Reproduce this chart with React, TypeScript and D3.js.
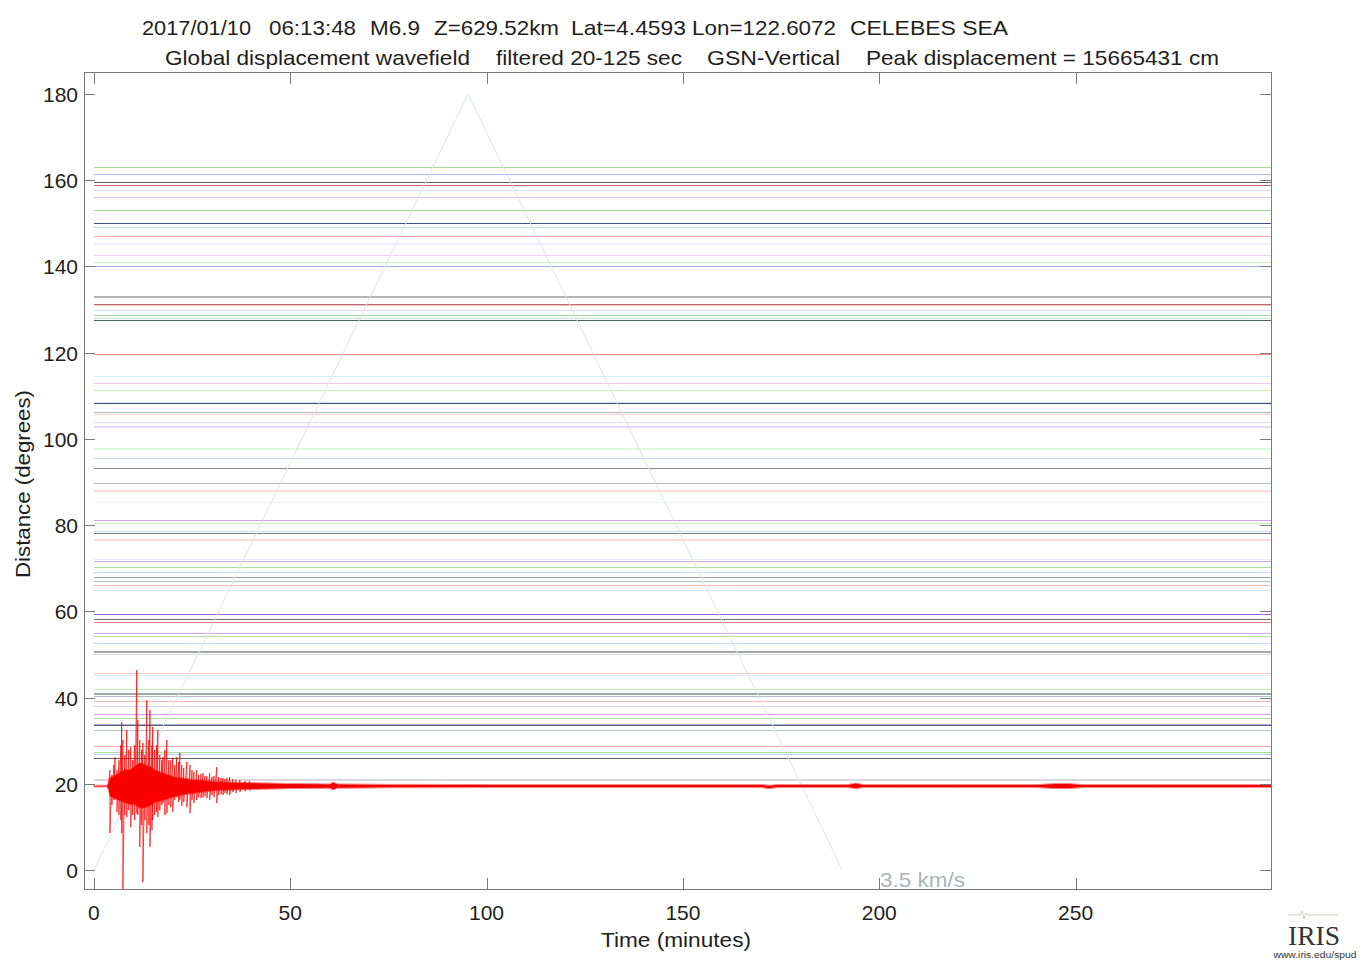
import React from "react";
import * as d3 from "d3";

// ---------- DATA ----------
const xTicks = [0, 50, 100, 150, 200, 250];
const yTicks = [0, 20, 40, 60, 80, 100, 120, 140, 160, 180];

// station distances (degrees) of the flat-looking traces
const stationDist = [
  163.0, 161.4, 159.5, 158.8, 157.7, 156.0, 153.0, 150.1, 149.1, 147.0, 145.3, 142.6, 141.0, 140.2,
  133.0, 131.4, 131.1, 129.8, 128.7, 128.1, 127.5, 119.7, 114.5, 112.9, 111.3, 108.6, 108.3, 106.2,
  105.8, 103.9, 102.7, 97.7, 95.6, 93.3, 89.7, 88.0, 85.3, 81.1, 80.4, 78.7, 78.1, 76.6, 72.2, 71.6,
  70.2, 69.1, 68.0, 67.0, 66.2, 64.9, 59.3, 58.3, 57.5, 55.1, 54.4, 52.7, 50.6, 50.1, 45.8, 45.2,
  42.1, 40.9, 40.5, 39.3, 38.0, 36.3, 35.4, 34.0, 33.6, 32.4, 28.9, 27.3, 26.9, 26.1, 20.9,
];
// style for each station line
const stationColor = [
  "#a8d8a0", "#a8b8f8", "#5e5e5e", "#c06070", "#d8d8f8", "#e0c0f0", "#a0d890", "#405080", "#c0e0e0", "#ffa8a8", "#eeeefa", "#f5d0f0", "#d0f0c0", "#a0b0f0",
  "#b4b4b4", "#b07070", "#ffc0c0", "#dcdcff", "#a8e0a0", "#c8e0e0", "#506060", "#ff9090", "#d8e8ff", "#f0c8f0", "#c8f0b0", "#d0e0ff", "#405070", "#a8b8b0",
  "#ffc8c8", "#dcdcff", "#e8d8f8", "#dcfadc", "#c8d8ff", "#8c8c8c", "#b0c0b8", "#ffd8d8", "#eeeeff", "#d0a0f0", "#c8f0b0", "#c8d8ff", "#7c7c7c", "#ffd8d8", "#e8e8ff", "#d0a8f0",
  "#a8e0a0", "#c8d8ff", "#a0a0a0", "#b0c4c0", "#ffb0b0", "#dcdcff", "#a060f0", "#707070", "#ff8080", "#d8a8f0", "#a8e0a0", "#c8d8ff", "#a0a8a8", "#d8d8d8", "#ffc8c8", "#d8e8ff",
  "#c0f0b0", "#a0a8a8", "#b0c0c0", "#ffb8b8", "#d8d8ff", "#d0a0f0", "#a8e0a0", "#a0b0f0", "#606060", "#b0c4c4", "#ffa8a8", "#a0e090", "#c0c8ff", "#606060", "#d8d8d8",
];
const stationWidth = stationDist.map((d) =>
  [145.3, 133.0, 102.7, 97.7, 88.0, 76.6, 50.6, 40.9, 20.9].includes(d) ? 2 : 1
);

// the large trace (nearest station, ~19.5 degrees)
const traceDist = 19.5;
// spike envelope (minutes, degrees above / below baseline)
const spikeT = [3.6, 4.1, 4.6, 5.1, 5.4, 5.9, 6.4, 6.9, 7.1, 7.4, 7.9, 8.4, 8.9, 9.4, 9.9, 10.4, 10.95, 11.2, 11.7, 12.2, 12.5, 13.0, 13.5, 14.0, 14.3, 14.8, 15.0, 15.5, 16.0, 16.3, 16.8, 17.3, 17.6, 18.1, 18.6, 19.1, 19.6, 20.1, 20.6, 21.1, 21.6, 21.9, 22.4, 22.9, 23.7, 24.5, 25.0, 25.5, 26.2, 26.7, 27.3, 27.8, 28.3, 28.8, 29.5, 30.1, 30.6, 31.3, 31.8, 32.4, 32.9, 33.4, 33.9, 34.6, 35.4, 36.2, 37.2, 38.5, 39.7];
const spikeHi = [0.5, 3.7, 2.6, 4.9, 6.7, 3.7, 6.0, 9.5, 14.8, 10.7, 7.2, 13.0, 8.4, 9.0, 6.0, 9.5, 26.9, 15.3, 10.7, 8.4, 10.0, 7.2, 19.9, 10.7, 17.6, 9.5, 13.7, 8.4, 9.5, 13.0, 7.2, 6.0, 6.7, 8.4, 10.7, 6.0, 6.0, 6.5, 4.9, 6.7, 5.6, 7.7, 4.9, 4.2, 5.6, 4.9, 3.7, 3.2, 3.7, 2.6, 2.8, 3.0, 2.3, 2.3, 3.0, 2.1, 2.3, 4.4, 2.1, 1.9, 1.9, 1.6, 1.9, 2.1, 1.6, 1.4, 1.4, 1.2, 1.2];
const spikeLo = [-0.5, -10.9, -4.4, -3.2, -3.2, -6.0, -6.7, -7.9, -10.9, -24.1, -6.7, -7.2, -5.6, -9.5, -6.7, -7.9, -6.3, -6.7, -14.1, -9.0, -22.3, -7.9, -10.9, -9.0, -14.1, -10.2, -7.9, -6.7, -6.0, -7.2, -5.6, -4.4, -3.9, -6.7, -6.3, -4.4, -4.9, -6.0, -3.2, -2.6, -3.7, -3.2, -4.6, -3.7, -4.9, -6.3, -3.2, -3.9, -3.2, -2.6, -2.8, -2.6, -2.3, -2.8, -3.2, -2.1, -2.6, -3.9, -2.1, -1.9, -2.1, -1.6, -1.9, -2.1, -1.4, -1.6, -1.4, -1.2, -1.2];
// solid core band of the trace
const coreT = [0, 3.5, 4.1, 5.3, 6.6, 7.9, 9.2, 10.4, 11.7, 13.0, 14.3, 15.5, 16.8, 18.1, 19.4, 20.6, 21.9, 24.5, 27.0, 29.5, 32.1, 35.9, 40, 45, 50, 55, 60, 61, 62, 70, 75, 80, 100, 120, 150, 170, 172, 174, 180, 192, 194, 196, 205, 220, 240, 245, 248, 252, 270, 300];
const coreHi = [0.2, 0.2, 2.0, 2.4, 3.2, 3.8, 3.8, 4.6, 5.4, 5.0, 4.6, 3.8, 3.3, 2.9, 2.5, 2.1, 2.0, 1.6, 1.4, 1.2, 1.0, 0.9, 0.8, 0.7, 0.6, 0.55, 0.5, 0.9, 0.5, 0.45, 0.4, 0.4, 0.35, 0.35, 0.35, 0.35, 0.2, 0.35, 0.35, 0.35, 0.7, 0.35, 0.35, 0.35, 0.35, 0.6, 0.6, 0.35, 0.35, 0.35];
const coreLo = [-0.2, -0.2, -2.4, -2.8, -3.4, -3.9, -4.3, -4.3, -5.1, -5.1, -4.6, -3.9, -3.5, -3.2, -2.8, -2.5, -2.2, -1.8, -1.5, -1.2, -1.0, -0.9, -0.8, -0.7, -0.6, -0.55, -0.5, -0.9, -0.5, -0.45, -0.4, -0.4, -0.35, -0.35, -0.35, -0.35, -0.6, -0.35, -0.35, -0.35, -0.6, -0.35, -0.35, -0.35, -0.35, -0.6, -0.6, -0.35, -0.35, -0.35];

// 3.5 km/s travel-time reference line
const rayleighT = [0, 95.3, 190.6];
const rayleighD = [0, 180, 0];

// ---------- LAYOUT ----------
const W = 1362, H = 961;
const L = 84, R = 1272, T = 72, B = 890;
const FONT = "'Liberation Sans', Arial, Helvetica, sans-serif";

export default function App() {
  const x = d3.scaleLinear().domain([-2.5, 300]).range([L, R]);
  const y = d3.scaleLinear().domain([-4.6, 185.1]).range([B, T]);

  const zig: [number, number][] = [];
  spikeT.forEach((t, i) => {
    zig.push([x(t), y(traceDist + spikeHi[i])]);
    zig.push([x(t), y(traceDist + spikeLo[i])]);
  });
  const zigPath = d3.line()(zig) || "";

  const coreArea =
    d3
      .area<number>()
      .x((_, i) => x(coreT[i]))
      .y0((_, i) => y(traceDist + coreLo[i]))
      .y1((_, i) => y(traceDist + coreHi[i]))(coreT) || "";

  const rayPath =
    d3
      .line<number>()
      .x((t) => x(t))
      .y((_, i) => y(rayleighD[i]))(rayleighT) || "";

  const tickColor = "#7a7a7a";
  const textColor = "#1e1e1e";

  const title1 = [
    ["2017/01/10", 142, 251],
    ["06:13:48", 269, 356],
    ["M6.9", 370, 420],
    ["Z=629.52km", 434, 559],
    ["Lat=4.4593", 571, 686],
    ["Lon=122.6072", 692, 836],
    ["CELEBES SEA", 850, 1008],
  ] as const;
  const title2 = [
    ["Global displacement wavefield", 165, 470],
    ["filtered 20-125 sec", 496, 682],
    ["GSN-Vertical", 707, 840],
    ["Peak displacement = 15665431 cm", 866, 1219],
  ] as const;

  return (
    <svg
      width={W}
      height={H}
      style={{ position: "absolute", left: 0, top: 0, background: "#fff" }}
      fontFamily={FONT}
    >
      <defs>
        <clipPath id="plot">
          <rect x={L} y={T} width={R - L} height={B - T} />
        </clipPath>
      </defs>
      <rect x={0} y={0} width={W} height={H} fill="#fff" />

      {/* titles */}
      {title1.map(([s, a, b]) => (
        <text key={s} x={a} y={35} fontSize={21} fill={textColor} textLength={b - a} lengthAdjust="spacingAndGlyphs">
          {s}
        </text>
      ))}
      {title2.map(([s, a, b]) => (
        <text key={s} x={a} y={65} fontSize={21} fill={textColor} textLength={b - a} lengthAdjust="spacingAndGlyphs">
          {s}
        </text>
      ))}

      <g clipPath="url(#plot)">
        {/* station traces */}
        {stationDist.map((d, i) => (
          <line
            key={i}
            x1={x(0)}
            x2={x(300)}
            y1={Math.round(y(d)) + (stationWidth[i] === 1 ? 0.5 : 0)}
            y2={Math.round(y(d)) + (stationWidth[i] === 1 ? 0.5 : 0)}
            stroke={stationColor[i]}
            strokeWidth={stationWidth[i]}
            shapeRendering="crispEdges"
          />
        ))}
        {/* travel time line */}
        <path d={rayPath} fill="none" stroke="#dde5ea" strokeWidth={1} />
        {/* big trace */}
        <path d={coreArea} fill="#ee0000" stroke="#ff8a8a" strokeWidth={1} />
        <path d={zigPath} fill="none" stroke="#ff0000" strokeOpacity={0.7} strokeWidth={1} />
      </g>

      {/* frame */}
      <rect x={L + 0.5} y={T + 0.5} width={R - L - 1} height={B - T - 1} fill="none" stroke={tickColor} strokeWidth={1} />

      {/* ticks */}
      {xTicks.map((t) => (
        <g key={t}>
          <line x1={Math.round(x(t)) + 0.5} x2={Math.round(x(t)) + 0.5} y1={B} y2={B - 12} stroke={tickColor} />
          <line x1={Math.round(x(t)) + 0.5} x2={Math.round(x(t)) + 0.5} y1={T} y2={T + 12} stroke={tickColor} />
          <text x={x(t)} y={920} fontSize={21} textAnchor="middle" fill={textColor}>
            {t}
          </text>
        </g>
      ))}
      {yTicks.map((t) => (
        <g key={t}>
          <line x1={L} x2={L + 11} y1={Math.round(y(t)) + 0.5} y2={Math.round(y(t)) + 0.5} stroke={tickColor} />
          <line x1={R - 12} x2={R} y1={Math.round(y(t)) + 0.5} y2={Math.round(y(t)) + 0.5} stroke={tickColor} />
          <text x={78} y={y(t) + 8} fontSize={21} textAnchor="end" fill={textColor}>
            {t}
          </text>
        </g>
      ))}

      {/* axis labels */}
      <text x={676} y={947} fontSize={21} textAnchor="middle" fill={textColor} textLength={150} lengthAdjust="spacingAndGlyphs">
        Time (minutes)
      </text>
      <text
        transform="translate(30,484) rotate(-90)"
        fontSize={21}
        textAnchor="middle"
        fill={textColor}
        textLength={188}
        lengthAdjust="spacingAndGlyphs"
      >
        Distance (degrees)
      </text>

      {/* velocity label */}
      <text x={880} y={887} fontSize={21} fill="#aab4b8" textLength={85} lengthAdjust="spacingAndGlyphs">
        3.5 km/s
      </text>

      {/* IRIS logo */}
      <path d="M1288,915 L1300,915 L1302,911 L1304,919 L1306,913 L1308,915 L1338,915" fill="none" stroke="#b8c8b0" strokeWidth={0.8} />
      <text x={1314} y={945} fontSize={27} textAnchor="middle" fill="#333" fontFamily="'Liberation Serif', 'DejaVu Serif', serif" textLength={52} lengthAdjust="spacingAndGlyphs">
        IRIS
      </text>
      <text x={1315} y={958} fontSize={8.5} textAnchor="middle" fill="#333" textLength={83} lengthAdjust="spacingAndGlyphs">
        www.iris.edu/spud
      </text>
    </svg>
  );
}
